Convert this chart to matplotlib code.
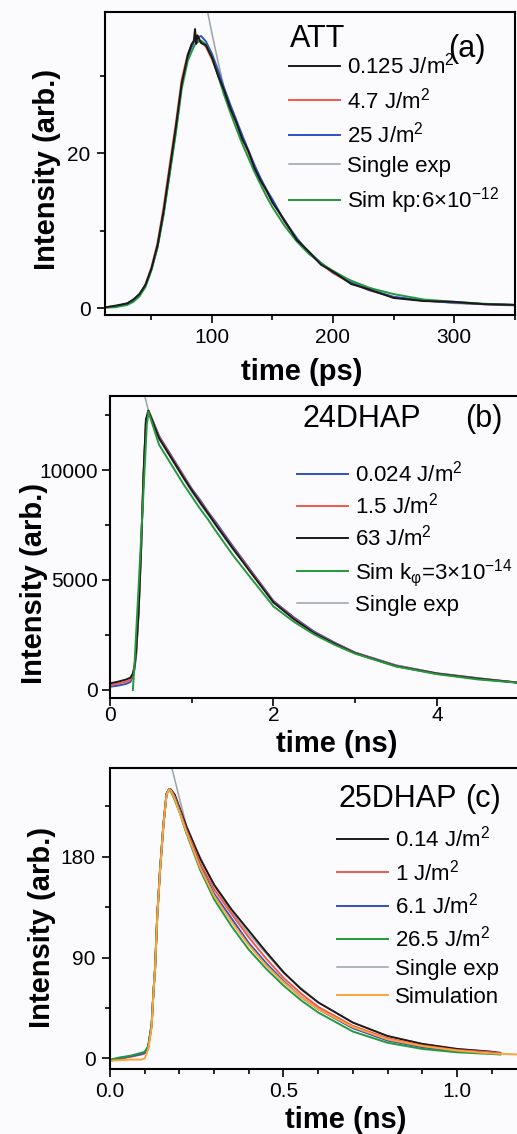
import matplotlib
matplotlib.use('Agg')
import matplotlib.pyplot as plt
from matplotlib.ticker import MultipleLocator, FormatStrFormatter

plt.rcParams['font.family'] = ['Liberation Sans', 'DejaVu Sans']
plt.rcParams['mathtext.fontset'] = 'custom'
plt.rcParams['mathtext.rm'] = 'Liberation Sans'
plt.rcParams['mathtext.it'] = 'Liberation Sans:italic'
plt.rcParams['mathtext.bf'] = 'Liberation Sans:bold'

# ---- panel (a): ATT, time in ps ----
t_a = [12, 20, 30, 35, 40, 45, 50, 55, 60, 65,
       70, 75, 80, 83, 85, 86, 87, 88, 91, 95,
       100, 105, 110, 115, 120, 125, 130, 135, 140, 145,
       150, 160, 170, 180, 190, 200, 215, 230, 250, 275,
       300, 325, 350]
att_0125 = [0.1, 0.3, 0.6, 1.1, 1.8, 3.0, 5.1, 8.1, 12.5, 17.9,
            23.2, 29.0, 32.6, 34.0, 34.5, 36.0, 34.1, 35.2, 34.2, 33.9,
            32.3, 30.0, 28.1, 25.8, 24.0, 21.8, 20.3, 18.1, 16.5, 15.2,
            13.6, 11.3, 8.8, 7.3, 5.6, 4.7, 3.1, 2.4, 1.3, 0.9,
            0.8, 0.5, 0.4]
att_47 = [0.1, 0.2, 0.5, 0.9, 1.6, 3.0, 5.3, 8.4, 13.0, 18.4,
          23.7, 29.5, 32.8, 33.8, 34.3, 34.5, 34.6, 34.6, 34.4, 33.7,
          32.1, 30.1, 27.9, 25.9, 23.9, 22.0, 20.1, 18.3, 16.6, 15.1,
          13.8, 11.1, 8.9, 7.1, 5.7, 4.5, 3.2, 2.3, 1.4, 0.95,
          0.7, 0.5, 0.4]
att_25 = [0.1, 0.2, 0.6, 1.0, 1.7, 2.9, 5.0, 7.9, 12.2, 17.4,
          22.7, 28.8, 32.4, 33.6, 34.3, 34.6, 34.8, 34.9, 35.1, 34.4,
          32.8, 30.7, 28.4, 26.3, 24.3, 22.3, 20.4, 18.5, 16.8, 15.3,
          14.0, 11.2, 9.0, 7.2, 5.8, 4.6, 3.3, 2.3, 1.45, 0.95,
          0.7, 0.5, 0.4]
att_sim = [0.05, 0.1, 0.4, 0.8, 1.5, 2.7, 4.9, 7.8, 12.0, 17.2,
           22.4, 28.3, 31.9, 33.0, 33.7, 34.0, 34.2, 34.3, 34.5, 34.0,
           32.4, 30.0, 27.5, 25.3, 23.2, 21.2, 19.4, 17.6, 16.0, 14.4,
           13.0, 10.6, 8.6, 7.0, 5.8, 4.8, 3.5, 2.6, 1.8, 1.1,
           0.8, 0.55, 0.4]
t_a_exp = [95, 100, 105, 110, 120, 130, 140, 150, 175, 200, 250, 300, 350]
att_exp = [39.3, 35.4, 31.8, 28.4, 24.0, 20.0, 16.3, 13.6, 8.0, 4.5, 1.4, 0.6, 0.3]

# ---- panel (b): 24DHAP, time in ns ----
t_b = [0, 0.1, 0.2, 0.25, 0.28, 0.3, 0.32, 0.35, 0.38, 0.41, 0.44, 0.47, 0.5,
       0.6, 0.7, 0.8, 0.9, 1.0, 1.1, 1.2, 1.3, 1.5, 1.7, 2.0, 2.25, 2.5, 2.75,
       3.0, 3.5, 4.0, 4.5, 5.0]
dhap24_0024 = [150, 200, 280, 370, 600, 950, 1600, 3500, 6300, 9700, 12200, 12650,
               12450, 11550, 10950, 10350, 9750, 9150, 8650, 8100, 7600, 6550, 5550,
               4050, 3300, 2650, 2150, 1700, 1120, 760, 540, 330]
dhap24_15 = [220, 290, 380, 460, 680, 1020, 1700, 3550, 6350, 9750, 12250, 12700,
             12450, 11500, 10900, 10300, 9700, 9100, 8580, 8050, 7520, 6480, 5500,
             4000, 3250, 2600, 2120, 1690, 1100, 750, 520, 340]
dhap24_63 = [300, 380, 480, 560, 750, 1100, 1800, 3600, 6400, 9800, 12300, 12700,
             12400, 11450, 10850, 10250, 9650, 9080, 8540, 8020, 7480, 6450, 5450,
             3980, 3220, 2580, 2100, 1670, 1080, 740, 510, 330]
t_b_sim = [0.28, 0.3, 0.35, 0.4, 0.45, 0.47, 0.5, 0.6, 0.7, 0.8, 0.9, 1.0, 1.1,
           1.2, 1.3, 1.5, 1.7, 2.0, 2.25, 2.5, 2.75, 3.0, 3.5, 4.0, 4.5, 5.0]
dhap24_sim = [0, 1200, 4700, 8300, 12000, 12650, 12300, 11150, 10550, 9950, 9350,
              8800, 8250, 7750, 7200, 6150, 5200, 3800, 3100, 2520, 2050, 1650,
              1070, 720, 480, 330]
t_b_exp = [0.41, 0.47, 0.6, 0.8, 1.0, 1.25, 1.5, 1.75, 2.0, 2.5, 3.0, 3.5, 4.0,
           4.5, 5.0]
dhap24_exp = [13600, 12700, 11400, 10200, 9000, 7700, 6400, 5250, 3980, 2600,
              1690, 1100, 750, 520, 340]

# ---- panel (c): 25DHAP, time in ns ----
t_c = [0, 0.03, 0.06, 0.09, 0.1, 0.11, 0.12, 0.125, 0.13, 0.136, 0.144, 0.154,
       0.163, 0.17, 0.175, 0.18, 0.187, 0.2, 0.22, 0.26, 0.3, 0.35, 0.4, 0.45,
       0.5, 0.55, 0.6, 0.7, 0.8, 0.9, 1.0, 1.1, 1.125]
dhap25_014 = [-2, 0, 2, 4, 5, 10, 30, 58, 81, 126, 167, 209, 236, 240, 240, 238,
              235, 224, 207, 178, 155, 133, 114, 95, 77, 62, 50, 32, 20, 13, 8.5,
              6, 5]
dhap25_1 = [-2, 0, 1.5, 3.5, 4.5, 9, 29, 57, 80, 125, 166, 208, 235, 240, 239,
            237, 233, 222, 204, 174, 151, 129, 108, 89, 72, 58, 46, 29, 18, 11.5,
            7.5, 5.5, 4.5]
dhap25_61 = [-1.5, 0.5, 2, 4, 5, 10, 30, 58, 81, 126, 167, 209, 236, 240, 239,
             236, 232, 221, 202, 171, 147, 125, 103, 85, 69, 55, 44, 27, 16, 10,
             6.5, 4.5, 4]
dhap25_265 = [-1, 1, 2.5, 5, 6, 11, 31, 59, 82, 127, 168, 209, 236, 240, 238,
              235, 230, 220, 201, 168, 142, 118, 97, 80, 65, 52, 41, 24, 14, 8.5,
              5.5, 4, 3.5]
t_c_sim = [0, 0.03, 0.06, 0.09, 0.1, 0.11, 0.12, 0.125, 0.13, 0.136, 0.144, 0.154,
           0.163, 0.17, 0.175, 0.18, 0.187, 0.2, 0.22, 0.26, 0.3, 0.35, 0.4, 0.45,
           0.5, 0.55, 0.6, 0.7, 0.8, 0.9, 1.0, 1.1, 1.18]
dhap25_sim = [-2, -1.5, -1, -1, 0, 8, 28, 57, 80, 125, 166, 208, 235, 240, 239,
              236, 231, 220, 202, 170, 145, 122, 101, 83, 68, 55, 44, 28, 17, 11,
              7, 4.5, 3.5]
t_c_exp = [0.176, 0.2, 0.22, 0.25, 0.3, 0.35, 0.4, 0.5, 0.6, 0.7, 0.8, 0.9, 1.0,
           1.1]
dhap25_exp = [262, 232, 208, 186, 154, 131, 111, 76, 50, 32, 20, 13, 8.5, 6]

BLACK = '#1a1a1a'
RED = '#f2584a'
BLUE = '#2f4fc4'
GREEN = '#22993c'
GREY = '#9aa3a6'
ORANGE = '#ffa33a'
BG = '#fbfbfd'

W, H = 517, 1134


def rect(l, t, r, b):
    return [l / W, 1 - b / H, (r - l) / W, (b - t) / H]


def style(ax, xpad, ypad):
    ax.set_facecolor(BG)
    for s in ax.spines.values():
        s.set_linewidth(1.5)
    ax.tick_params(which='both', direction='out', width=1.2, labelsize=15)
    ax.tick_params(which='major', length=5.5)
    ax.tick_params(which='minor', length=3.5)
    ax.tick_params(axis='x', pad=xpad)
    ax.tick_params(axis='y', pad=ypad)


def legend(ax, handles, labels, x, y, spacing=0.4):
    ax.legend(handles, labels, loc='upper left', bbox_to_anchor=(x / W, 1 - y / H),
              bbox_transform=fig.transFigure, frameon=False, fontsize=16,
              handlelength=2.3, handletextpad=0.3, labelspacing=spacing,
              borderpad=0, borderaxespad=0)


fig = plt.figure(figsize=(W / 100, H / 100), dpi=100, facecolor=BG)
lw = 1.4

# (a)
ax = fig.add_axes(rect(105, 12, 515, 315))
style(ax, 4, 5)
g, = ax.plot(t_a_exp, att_exp, color=GREY, lw=1.1)
r, = ax.plot(t_a, att_47, color=RED, lw=lw)
b, = ax.plot(t_a, att_25, color=BLUE, lw=lw)
s, = ax.plot(t_a, att_sim, color=GREEN, lw=lw)
k, = ax.plot(t_a, att_0125, color=BLACK, lw=lw)
ax.set_xlim(11.6, 350.4)
ax.set_ylim(-0.9, 38.2)
ax.xaxis.set_major_locator(MultipleLocator(100))
ax.xaxis.set_minor_locator(MultipleLocator(50))
ax.yaxis.set_major_locator(MultipleLocator(20))
ax.yaxis.set_minor_locator(MultipleLocator(10))
ax.set_xlabel('time (ps)', fontsize=21, fontweight='bold')
ax.set_ylabel('Intensity (arb.)', fontsize=21, fontweight='bold')
ax.xaxis.set_label_coords(0.48, -0.142)
ax.yaxis.set_label_coords(-0.107, 0.48)
legend(ax, [k, r, b, g, s],
       ['0.125 J/m$^2$', '4.7 J/m$^2$', '25 J/m$^2$', 'Single exp',
        'Sim kp:6×10$^{-12}$'], 289, 53, 0.38)
fig.text(290 / W, 1 - 47 / H, 'ATT', fontsize=22, va='baseline')
fig.text(448 / W, 1 - 57 / H, '(a)', fontsize=22, va='baseline')

# (b)
ax = fig.add_axes(rect(110, 396, 517, 698))
style(ax, 0.5, 3)
ax.spines['right'].set_visible(False)
g, = ax.plot(t_b_exp, dhap24_exp, color=GREY, lw=1.1)
b, = ax.plot(t_b, dhap24_0024, color=BLUE, lw=lw)
r, = ax.plot(t_b, dhap24_15, color=RED, lw=lw)
k, = ax.plot(t_b, dhap24_63, color=BLACK, lw=lw)
s, = ax.plot(t_b_sim, dhap24_sim, color=GREEN, lw=lw)
ax.set_xlim(0, 4.98)
ax.set_ylim(-364, 13364)
ax.xaxis.set_major_locator(MultipleLocator(2))
ax.xaxis.set_minor_locator(MultipleLocator(1))
ax.yaxis.set_major_locator(MultipleLocator(5000))
ax.yaxis.set_minor_locator(MultipleLocator(2500))
ax.set_xlabel('time (ns)', fontsize=21, fontweight='bold')
ax.set_ylabel('Intensity (arb.)', fontsize=21, fontweight='bold')
ax.xaxis.set_label_coords(0.558, -0.106)
ax.yaxis.set_label_coords(-0.152, 0.38)
legend(ax, [b, r, k, s, g],
       ['0.024 J/m$^2$', '1.5 J/m$^2$', '63 J/m$^2$',
        'Sim k$_{\\mathrm{φ}}$=3×10$^{-14}$', 'Single exp'], 297, 461, 0.27)
fig.text(302 / W, 1 - 427 / H, '24DHAP', fontsize=22, va='baseline')
fig.text(465 / W, 1 - 427 / H, '(b)', fontsize=22, va='baseline')

# (c)
ax = fig.add_axes(rect(110, 768, 517, 1069))
style(ax, 4, 5)
ax.spines['right'].set_visible(False)
g, = ax.plot(t_c_exp, dhap25_exp, color=GREY, lw=1.1)
k, = ax.plot(t_c, dhap25_014, color=BLACK, lw=lw)
r, = ax.plot(t_c, dhap25_1, color=RED, lw=lw)
b, = ax.plot(t_c, dhap25_61, color=BLUE, lw=lw)
s, = ax.plot(t_c, dhap25_265, color=GREEN, lw=lw)
o, = ax.plot(t_c_sim, dhap25_sim, color=ORANGE, lw=lw)
ax.set_xlim(0, 1.173)
ax.set_ylim(-9.4, 259)
ax.xaxis.set_major_locator(MultipleLocator(0.5))
ax.xaxis.set_minor_locator(MultipleLocator(0.1))
ax.yaxis.set_major_locator(MultipleLocator(90))
ax.yaxis.set_minor_locator(MultipleLocator(45))
ax.xaxis.set_major_formatter(FormatStrFormatter('%.1f'))
ax.set_xlabel('time (ns)', fontsize=21, fontweight='bold')
ax.set_ylabel('Intensity (arb.)', fontsize=21, fontweight='bold')
ax.xaxis.set_label_coords(0.58, -0.123)
ax.yaxis.set_label_coords(-0.133, 0.47)
legend(ax, [k, r, b, s, g, o],
       ['0.14 J/m$^2$', '1 J/m$^2$', '6.1 J/m$^2$', '26.5 J/m$^2$',
        'Single exp', 'Simulation'], 337, 826, 0.33)
fig.text(338 / W, 1 - 807 / H, '25DHAP', fontsize=22, va='baseline')
fig.text(465 / W, 1 - 807 / H, '(c)', fontsize=22, va='baseline')

fig.savefig('out.png', dpi=100, facecolor=BG)
